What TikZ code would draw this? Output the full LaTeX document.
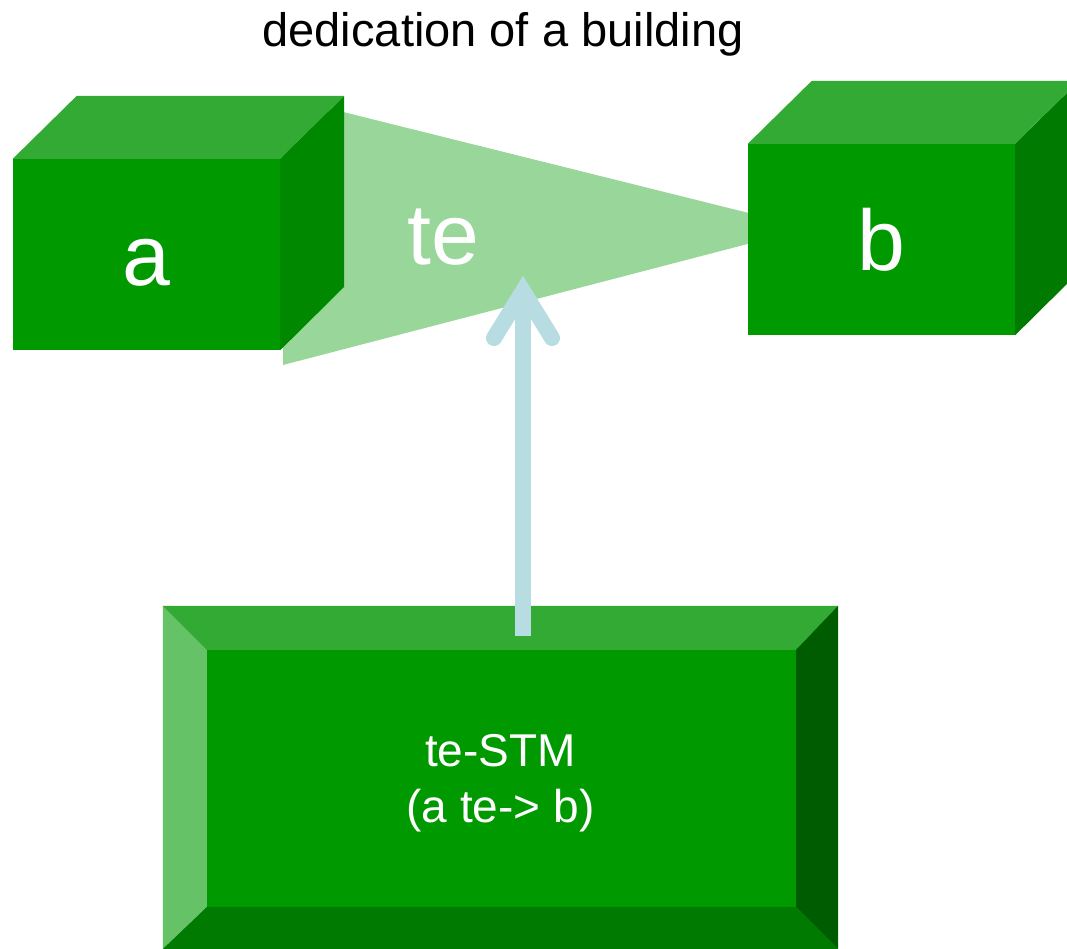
\documentclass[tikz,border=0pt]{standalone}
\usepackage{fontspec}
\setmainfont{Liberation Sans}
\usetikzlibrary{calc,positioning}
\definecolor{boxfront}{HTML}{009900}
\definecolor{boxtop}{HTML}{33AA33}
\definecolor{boxside}{HTML}{008800}
\definecolor{boxsidedark}{HTML}{007A00}
\definecolor{bevellight}{HTML}{66C266}
\definecolor{beveldark}{HTML}{005C00}
\definecolor{relfill}{HTML}{99D699}
\definecolor{arrowblue}{HTML}{B7DCE1}

\begin{document}
\begin{tikzpicture}[x=1pt, y=-1pt,
    cubeface/.style={fill=boxfront, text=white, inner sep=0pt,
        minimum width=267pt, minimum height=191pt,
        font=\fontsize{86}{100}\selectfont, text height=62pt, text depth=0pt},
    rellabel/.style={text=white, inner sep=0pt,
        font=\fontsize{86}{100}\selectfont, text height=62pt, text depth=0pt},
    bevelbox/.style={fill=boxfront, inner sep=0pt,
        minimum width=675pt, minimum height=343pt},
    stmlabel/.style={text=white, align=center, inner sep=0pt,
        font=\fontsize{46}{56}\selectfont},
    relarrow/.style={draw=arrowblue, line width=16pt}]
    \useasboundingbox (0,0) rectangle (1067,949);

    \node[font=\fontsize{47}{56}\selectfont, anchor=base] (title) at (503,47) {dedication of a building};

    % relation band behind the cubes
    \fill[relfill] (283,97) -- (809,228) -- (283,365) -- cycle;
    \node[rellabel] (te) at (443,234) {te};

    \node[cubeface] (a) at (146.5,254.5) {a};
    \fill[boxtop] (a.north west) -- ++(64,-63) -- ++(267,0) -- (a.north east) -- cycle;
    \fill[boxside] (a.north east) -- ++(64,-63) -- ++(0,191) -- (a.south east) -- cycle;

    \node[cubeface] (b) at (881.5,239.5) {b};
    \fill[boxtop] (b.north west) -- ++(64,-63) -- ++(267,0) -- (b.north east) -- cycle;
    \fill[boxsidedark] (b.north east) -- ++(64,-63) -- ++(0,191) -- (b.south east) -- cycle;

    \node[bevelbox] (stm) at (500.5,777.5) {};
    \fill[boxtop] (stm.north west) -- (stm.north east) -- ++(-42,44) -- ($(stm.north west)+(44,44)$) -- cycle;
    \fill[bevellight] (stm.north west) -- ++(44,44) -- ($(stm.south west)+(44,-42)$) -- (stm.south west) -- cycle;
    \fill[beveldark] (stm.north east) -- ++(-42,44) -- ($(stm.south east)+(-42,-42)$) -- (stm.south east) -- cycle;
    \fill[boxsidedark] (stm.south west) -- ++(44,-42) -- ($(stm.south east)+(-42,-42)$) -- (stm.south east) -- cycle;
    \node[stmlabel] (stmtext) at ([yshift=-6pt]stm.center) {te-STM\\(a te-> b)};

    \coordinate (tip) at (523,291);
    \draw[relarrow] ([xshift=22.5pt,yshift=-30pt]stm.north) -- (tip);
    \draw[relarrow, line cap=round, line join=miter] ($(tip)+(-29,47)$) -- (tip) -- ($(tip)+(29,47)$);
\end{tikzpicture}
\end{document}
